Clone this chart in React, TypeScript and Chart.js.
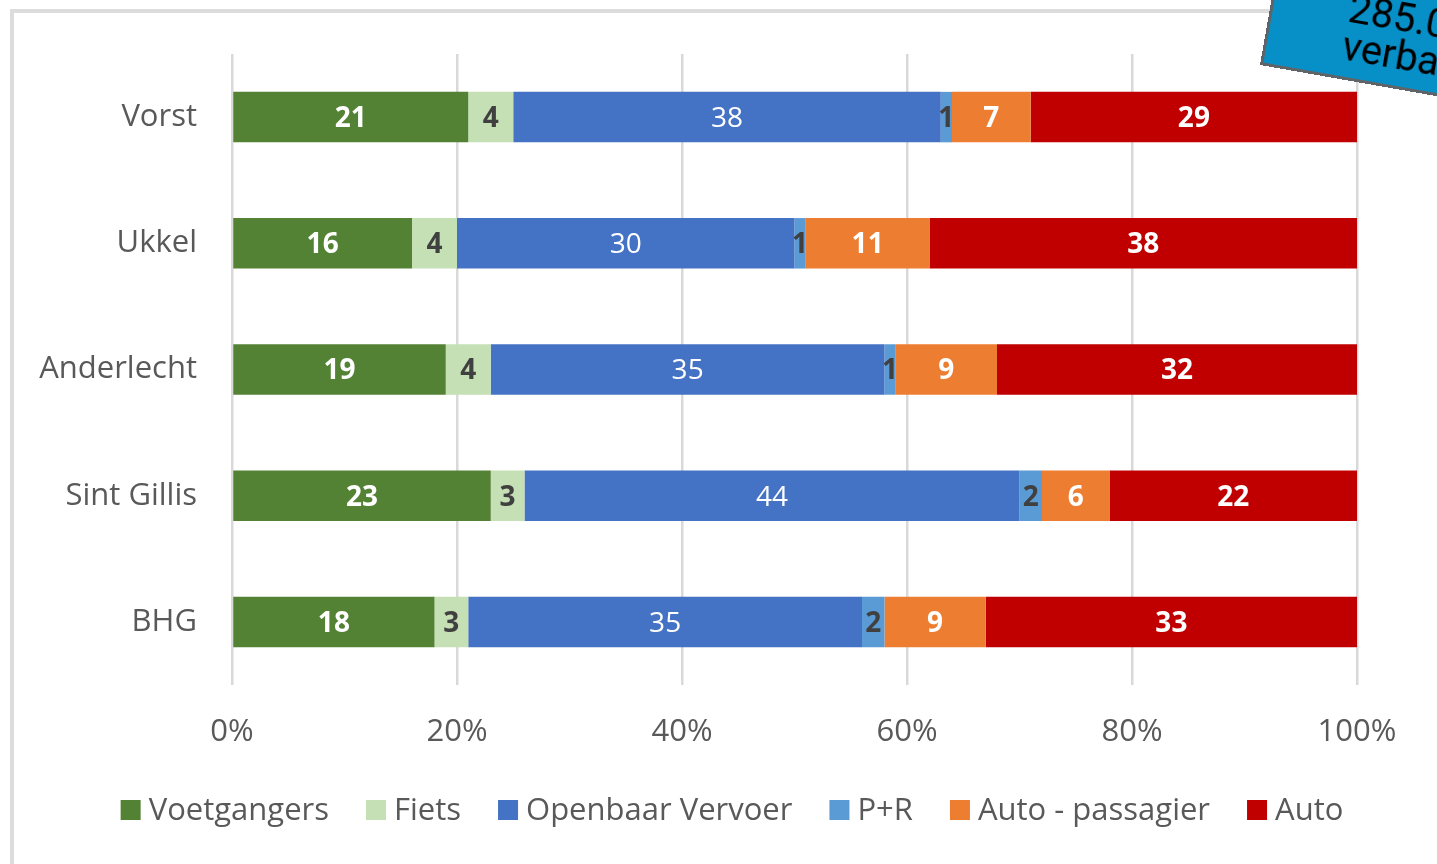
import React, { useEffect, useRef } from "react";
import { Chart, registerables } from "chart.js";

Chart.register(...registerables);

const categories = ["Vorst", "Ukkel", "Anderlecht", "Sint Gillis", "BHG"];
const voetgangers = [21, 16, 19, 23, 18];
const fiets = [4, 4, 4, 3, 3];
const openbaarVervoer = [38, 30, 35, 44, 35];
const pr = [1, 1, 1, 2, 2];
const autoPassagier = [7, 11, 9, 6, 9];
const auto = [29, 38, 32, 22, 33];
const xTicks = [0, 20, 40, 60, 80, 100];

const seriesNames = ["Voetgangers", "Fiets", "Openbaar Vervoer", "P+R", "Auto - passagier", "Auto"];
const seriesColors = ["#548235", "#C5E0B4", "#4472C4", "#5B9BD5", "#ED7D31", "#C00000"];
const labelColors = ["#FFFFFF", "#404040", "#FFFFFF", "#404040", "#FFFFFF", "#FFFFFF"];
const labelWeights = ["bold", "bold", "normal", "bold", "bold", "bold"];

const FONT = "'Open Sans', 'DejaVu Sans', sans-serif";

const dataLabelPlugin = {
  id: "segmentLabels",
  afterDatasetsDraw(chart: any) {
    const ctx = chart.ctx;
    ctx.save();
    ctx.textAlign = "center";
    ctx.textBaseline = "middle";
    chart.data.datasets.forEach((ds: any, i: number) => {
      const meta = chart.getDatasetMeta(i);
      ctx.fillStyle = labelColors[i];
      ctx.font = `${labelWeights[i]} 28px ${FONT}`;
      meta.data.forEach((bar: any, j: number) => {
        const v = ds.data[j];
        const cx = (bar.x + bar.base) / 2;
        ctx.fillText(String(v), cx, bar.y + 2);
      });
    });
    ctx.restore();
  },
};

// Legend drawn in one row under the axis, centred like the original
const legendPlugin = {
  id: "rowLegend",
  afterDraw(chart: any) {
    const ctx = chart.ctx;
    const box = 20;
    const textGap = 8;
    const itemGap = 37;
    const centerX = 732;
    const centerY = 810;
    ctx.save();
    ctx.font = `31px ${FONT}`;
    ctx.textBaseline = "middle";
    ctx.textAlign = "left";
    const items = chart.data.datasets.map((ds: any) => ({
      label: ds.label,
      color: ds.backgroundColor,
      w: ctx.measureText(ds.label).width,
    }));
    const total =
      items.reduce((s: number, it: any) => s + box + textGap + it.w, 0) + itemGap * (items.length - 1);
    let x = centerX - total / 2;
    items.forEach((it: any) => {
      ctx.fillStyle = it.color;
      ctx.fillRect(x, centerY - box / 2, box, box);
      x += box + textGap;
      ctx.fillStyle = "#595959";
      ctx.fillText(it.label, x, centerY + 1);
      x += it.w + itemGap;
    });
    ctx.restore();
  },
};

export default function App() {
  const ref = useRef<HTMLCanvasElement>(null);
  useEffect(() => {
    if (!ref.current) return;
    const allSeries = [voetgangers, fiets, openbaarVervoer, pr, autoPassagier, auto];
    const chart = new Chart(ref.current, {
      type: "bar",
      data: {
        labels: categories,
        datasets: allSeries.map((d, i) => ({
          label: seriesNames[i],
          data: d,
          backgroundColor: seriesColors[i],
          borderWidth: 0,
          barPercentage: 0.4,
          categoryPercentage: 1,
        })),
      },
      options: {
        indexAxis: "y",
        responsive: false,
        animation: false,
        layout: { padding: { left: 0, right: 80, top: 54, bottom: 97.5 } },
        scales: {
          x: {
            stacked: true,
            min: 0,
            max: 100,
            afterBuildTicks: (scale: any) => {
              scale.ticks = xTicks.map((v) => ({ value: v }));
            },
            afterFit: (scale: any) => {
              scale.height = 81.5;
            },
            grid: { color: "#D9D9D9", lineWidth: 2.5, drawTicks: false },
            border: { display: false },
            ticks: {
              padding: 29,
              color: "#595959",
              font: { family: FONT, size: 31 },
              callback: (v: any) => v + "%",
            },
          },
          y: {
            stacked: true,
            afterFit: (scale: any) => {
              scale.width = 232;
            },
            grid: { display: false, drawTicks: false },
            border: { display: false },
            ticks: {
              padding: 35,
              color: "#595959",
              font: { family: FONT, size: 31 },
            },
          },
        },
        plugins: {
          legend: { display: false },
          tooltip: { enabled: false },
        },
      },
      plugins: [dataLabelPlugin, legendPlugin],
    } as any);
    return () => chart.destroy();
  }, []);

  return (
    <div style={{ position: "fixed", left: 0, top: 0, width: 1437, height: 864, overflow: "hidden", background: "#fff" }}>
      <div
        style={{
          position: "absolute",
          left: 10,
          top: 9,
          width: 1600,
          height: 1000,
          border: "4px solid #DCDCDC",
          boxSizing: "border-box",
        }}
      />
      <canvas ref={ref} width={1437} height={864} style={{ position: "absolute", left: 0, top: 0, width: 1437, height: 864 }} />
      <div
        style={{
          position: "absolute",
          left: 1260,
          top: -85,
          width: 400,
          height: 150,
          boxSizing: "border-box",
          background: "#0790C8",
          border: "3px solid #5E6468",
          transformOrigin: "0 100%",
          transform: "rotate(10deg)",
          display: "flex",
          flexDirection: "column",
          justifyContent: "flex-end",
          paddingLeft: 75,
          paddingBottom: 11,
          fontFamily: "Roboto, sans-serif",
          fontSize: 40,
          lineHeight: "38px",
          color: "#000",
          whiteSpace: "nowrap",
        }}
      >
        <div>285.000</div>
        <div>verbalisaties</div>
      </div>
    </div>
  );
}
